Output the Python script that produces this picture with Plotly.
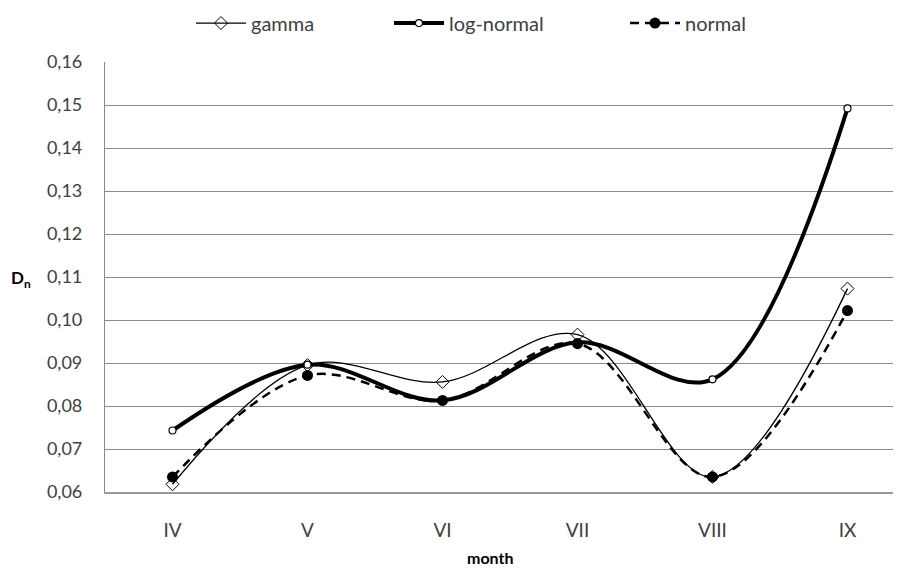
import plotly.graph_objects as go

months = ["IV", "V", "VI", "VII", "VIII", "IX"]
gamma = [0.0618, 0.0895, 0.0856, 0.0966, 0.0635, 0.1073]
lognormal = [0.0743, 0.0896, 0.0813, 0.0948, 0.0862, 0.1492]
normal = [0.0635, 0.0871, 0.0813, 0.0945, 0.0635, 0.1022]

FONT = "Lato"
TXT = "#404040"

# page has an 8px body margin; work in page pixels and convert
OFF = 8
W, H = 901 - OFF, 568 - OFF
L = 105 - OFF
T = 62 - OFF
R = 0
BOT = 492.5 - OFF
B = H - BOT
pw = W - L - R
ph = BOT - T

fig = go.Figure()
fig.add_trace(go.Scatter(
    x=months, y=gamma, name="gamma", mode="lines+markers",
    line=dict(color="black", width=1.3, shape="spline", smoothing=1),
    marker=dict(symbol="diamond-open", size=10, color="black", line=dict(width=1)),
    cliponaxis=False, legend="legend", showlegend=True))
fig.add_trace(go.Scatter(
    x=months, y=lognormal, name="log-normal", mode="lines+markers",
    line=dict(color="black", width=4, shape="spline", smoothing=1),
    marker=dict(symbol="circle", size=7, color="white", line=dict(width=1.2, color="black")),
    cliponaxis=False, legend="legend2", showlegend=True))
fig.add_trace(go.Scatter(
    x=months, y=normal, name="normal", mode="lines+markers",
    line=dict(color="black", width=2.5, dash="9px,6px", shape="spline", smoothing=1),
    marker=dict(symbol="circle", size=11, color="black"),
    cliponaxis=False, legend="legend3", showlegend=True))

def px_x(px):
    return (px - OFF - L) / pw

def px_y(py):
    return (BOT - (py - OFF)) / ph

legfont = dict(family=FONT, size=20, color=TXT)
common = dict(orientation="h", yanchor="middle", xanchor="left", y=px_y(23),
              font=legfont, bgcolor="rgba(0,0,0,0)", itemwidth=50)

fig.update_layout(
    width=W, height=H,
    showlegend=True,
    margin=dict(l=L, r=R, t=T, b=B, autoexpand=False),
    paper_bgcolor="white", plot_bgcolor="white",
    separators=",.",
    font=dict(family=FONT, size=18, color=TXT),
    legend=dict(x=px_x(191), **common),
    legend2=dict(x=px_x(389), **common),
    legend3=dict(x=px_x(625), **common),
    xaxis=dict(
        type="category", range=[-0.5, -0.5 + pw / 135.0],
        showgrid=False, showline=True, linecolor="#9a9a9a", linewidth=1.5,
        ticks="", ticklabelstandoff=20,
        tickfont=dict(family=FONT, size=19, color=TXT), zeroline=False),
    yaxis=dict(
        range=[0.06, 0.16], dtick=0.01, tick0=0.06, tickformat=".2f",
        showgrid=True, gridcolor="#8a8a8a", gridwidth=1,
        showline=True, linecolor="#8a8a8a", linewidth=1.2,
        ticks="", ticklabelstandoff=18, zeroline=False,
        tickfont=dict(family=FONT, size=18, color=TXT)),
    annotations=[
        dict(text="<b>D<sub>n</sub></b>", xref="paper", yref="paper", x=px_x(21), y=px_y(279),
             xanchor="center", yanchor="middle", showarrow=False,
             font=dict(family=FONT, size=17, color="black")),
        dict(text="<b>month</b>", xref="paper", yref="paper", x=px_x(490),
             y=px_y(558), xanchor="center", yanchor="middle",
             showarrow=False, font=dict(family=FONT, size=16, color="black")),
    ],
)

fig.write_html("out.html")
